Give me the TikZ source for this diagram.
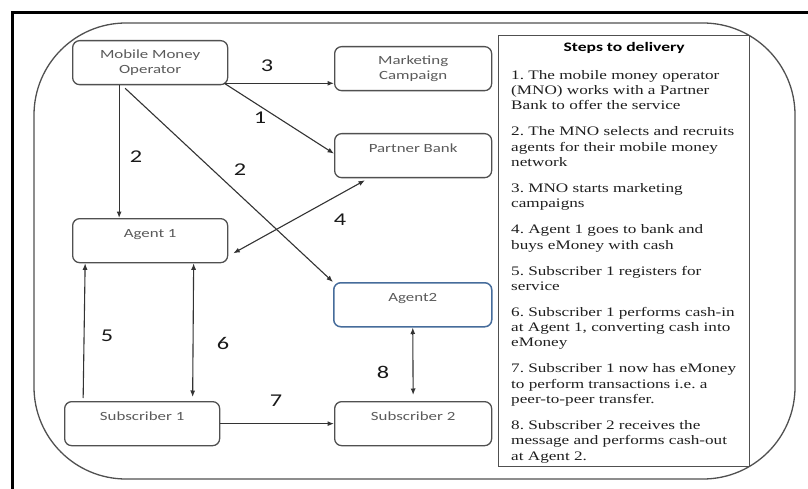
\documentclass[tikz,border=0pt]{standalone}
\usepackage{fontspec}
\usetikzlibrary{arrows.meta}
\newfontfamily\boxfont[FakeStretch=1.35]{Carlito}
\newfontfamily\stepfont[FakeStretch=1.32]{Liberation Serif}
\definecolor{boxgray}{RGB}{80,80,80}
\definecolor{txtgray}{RGB}{90,90,90}
\definecolor{agentblue}{RGB}{70,108,155}
\tikzset{
  box/.style={draw=boxgray, line width=1.3pt, rounded corners=7pt, minimum width=157pt,
    minimum height=44pt, inner sep=4pt, text=txtgray, align=center, anchor=north west,
    font=\boxfont\fontsize{12.5}{15}\selectfont},
  topbox/.style={box, text height=14.5pt, text depth=21.5pt},
  arr/.style={-{Latex[length=6.5pt,width=5pt]}, line width=1.1pt, black!80},
  darr/.style={{Latex[length=6.5pt,width=5pt]}-{Latex[length=6.5pt,width=5pt]}, line width=1.1pt, black!80},
  num/.style={font=\boxfont\fontsize{18}{18}\selectfont, text=black!90, inner sep=0pt}
}
\begin{document}
\begin{tikzpicture}[x=1pt,y=-1pt]
    % page
    \fill[white] (0,0) rectangle (808,489);
    \useasboundingbox (0,0) rectangle (808,489);
    % Le cadre
    \draw[line width=3pt] (12,489) -- (12,13) -- (808,13);
    \draw[boxgray, line width=1.3pt, rounded corners=92pt] (34,23) rectangle (795,479);
    % Les acteurs
    \node[box, minimum width=155pt] (mmo) at (72,40) {Mobile Money\\Operator};
    \node[box] (mkt) at (334,46) {Marketing\\Campaign};
    \node[topbox] (pb) at (334,133) {Partner Bank};
    \node[topbox, minimum width=155pt] (a1) at (72,218) {Agent 1};
    \node[topbox, minimum width=158pt, draw=agentblue, line width=1.5pt] (a2) at (333,282) {Agent2};
    \node[topbox, minimum width=155pt] (s1) at (64,401) {Subscriber 1};
    \node[topbox] (s2) at (334,401) {Subscriber 2};
    % Les fleches
    \draw[arr] ([xshift=-4pt,yshift=2pt]mmo.south east) -- ([yshift=2pt]mmo.south east -| mkt.west);
    \draw[arr] ([xshift=-4pt,yshift=2pt]mmo.south east) -- ([yshift=2pt]pb.west);
    \draw[arr] ([xshift=-31pt]mmo.south) -- ([xshift=-31pt]mmo.south |- a1.north);
    \draw[arr] ([xshift=-25pt,yshift=-3pt]mmo.south) -- (a2.north west);
    \draw[darr] ([xshift=5pt,yshift=10pt]a1.south east) -- ([xshift=31pt,yshift=-2pt]pb.south west);
    \draw[arr] ([xshift=-59pt,yshift=3pt]s1.north) -- ([xshift=-65pt]a1.south);
    \draw[darr] ([xshift=43.5pt]a1.south) -- ([xshift=50.5pt,yshift=4pt]s1.north);
    \draw[arr] (s1.east) -- (s2.west);
    \draw[darr] (a2.south) -- ([yshift=6pt]s2.north);
    % Les numeros
    \node[num] (n3) at (267,66) {3};
    \node[num] (n1) at (260,118) {1};
    \node[num] (n2a) at (136,157) {2};
    \node[num] (n2b) at (240,170) {2};
    \node[num] (n4) at (340,220) {4};
    \node[num] (n5) at (107,336) {5};
    \node[num] (n6) at (223,343) {6};
    \node[num] (n7) at (276,401) {7};
    \node[num] (n8) at (383,372) {8};
    % Les etapes
    \node[draw=boxgray, line width=1.4pt, minimum width=251pt, minimum height=431pt,
      anchor=north west, inner sep=0pt] (stepsbox) at (498,35) {};
    \node[font=\boxfont\bfseries\fontsize{13}{15}\selectfont, text=black] (stepstitle)
      at ([yshift=-13pt]stepsbox.north) {Steps to delivery};
    \node[anchor=north west, align=left, inner sep=0pt, text=black!88,
      font=\stepfont\fontsize{13}{15.3}\selectfont\frenchspacing] (stepstext)
      at ([xshift=13pt,yshift=-35pt]stepsbox.north west) {%
      1. The mobile money operator\\ (MNO) works with a Partner\\ Bank to offer the service\\[10.7pt]
      2. The MNO selects and recruits\\ agents for their mobile money\\ network\\[10.7pt]
      3. MNO starts marketing\\ campaigns\\[10.7pt]
      4. Agent 1 goes to bank and\\ buys eMoney with cash\\[10.7pt]
      5. Subscriber 1 registers for\\ service\\[10.7pt]
      6. Subscriber 1 performs cash-in\\ at Agent 1, converting cash into\\ eMoney\\[10.7pt]
      7. Subscriber 1 now has eMoney\\ to perform transactions i.e. a\\ peer-to-peer transfer.\\[10.7pt]
      8. Subscriber 2 receives the\\ message and performs cash-out\\ at Agent 2.};
\end{tikzpicture}
\end{document}
